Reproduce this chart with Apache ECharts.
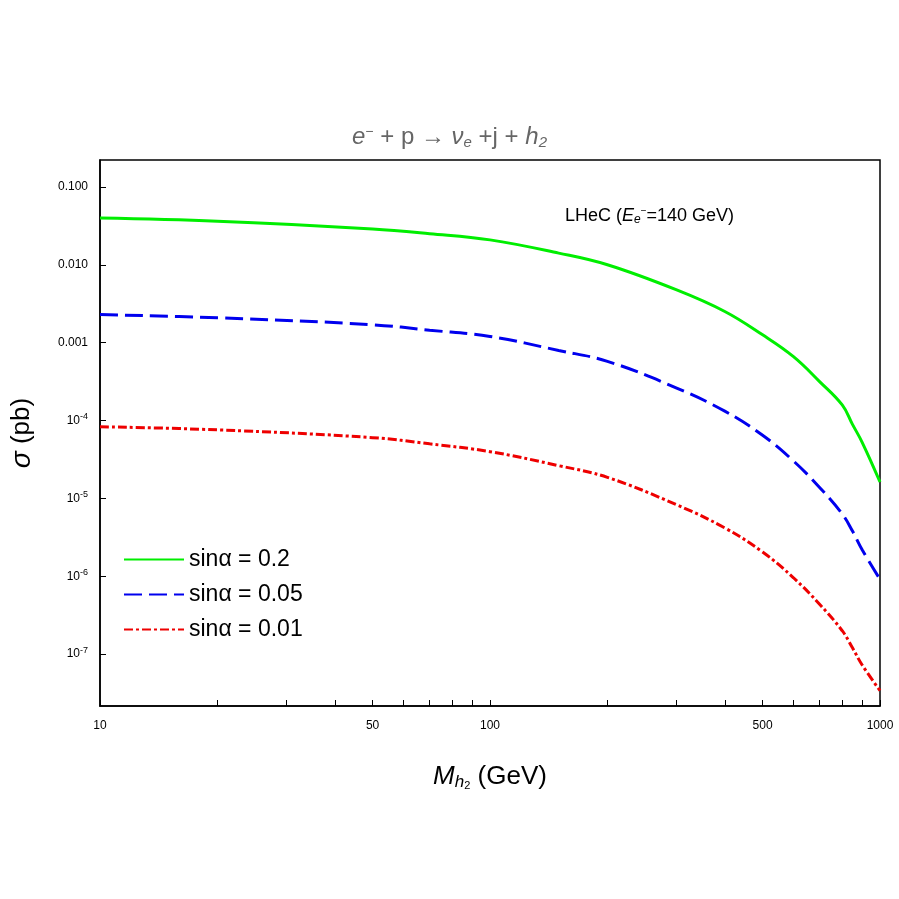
<!DOCTYPE html>
<html><head><meta charset="utf-8">
<script src="https://cdn.jsdelivr.net/npm/echarts@6/dist/echarts.min.js"></script>
<style>html,body{margin:0;background:#fff}#c{width:899px;height:899px}</style>
</head><body><div id="c"></div>
<script>
const massGeV = [10, 20, 50, 70, 100, 150, 200, 300, 400, 500, 600, 700, 800, 850, 900, 1000];
const log10SigmaGreen = [-1.40, -1.44, -1.54, -1.60, -1.68, -1.85, -2.00, -2.32, -2.60, -2.90, -3.18, -3.50, -3.80, -4.05, -4.28, -4.79];
const log10SigmaBlue  = [-2.64, -2.68, -2.77, -2.84, -2.92, -3.10, -3.24, -3.58, -3.88, -4.19, -4.52, -4.86, -5.20, -5.42, -5.66, -6.04];
const log10SigmaRed   = [-4.08, -4.12, -4.22, -4.30, -4.40, -4.58, -4.73, -5.08, -5.38, -5.69, -6.02, -6.36, -6.70, -6.92, -7.14, -7.47];
const xTickLabels = [10, 50, 100, 500, 1000];
const xMinorTicks = [10,20,30,40,50,60,70,80,90,100,200,300,400,500,600,700,800,900,1000];
const yTickExps = [-1, -2, -3, -4, -5, -6, -7];
const seriesNames = ['sinα = 0.2', 'sinα = 0.05', 'sinα = 0.01'];

const L = Math.log10;
const pts = arr => massGeV.map((m, i) => [L(m), arr[i]]);
const chart = echarts.init(document.getElementById('c'));
const font = 'Liberation Sans, Arial, sans-serif';
chart.setOption({
  animation: false,
  grid: {left: 100, right: 19, top: 160, bottom: 193, containLabel: false, outerBoundsMode: 'none', show: true, borderColor: '#000', borderWidth: 1.5, backgroundColor: 'transparent'},
  title: {
    text: '{i|e}{s|−}{n| + p → }{i|ν}{sub|e}{n| +j + }{i|h}{sub|2}',
    left: 'center', top: 120,
    textStyle: {fontWeight: 'normal', rich: {
      i: {fontStyle: 'italic', fontWeight: 'normal', fontSize: 24, color: '#666', fontFamily: font},
      n: {fontSize: 24, fontWeight: 'normal', color: '#666', fontFamily: font},
      s: {fontSize: 14, fontWeight: 'normal', color: '#666', verticalAlign: 'top', fontFamily: font},
      sub: {fontSize: 15, fontWeight: 'normal', color: '#666', fontStyle: 'italic', verticalAlign: 'bottom', padding: [10,0,0,0], fontFamily: font}
    }}
  },
  xAxis: {
    type: 'value', min: L(10), max: L(1000),
    splitLine: {show: false},
    axisLine: {lineStyle: {color: '#000', width: 1.5}},
    axisTick: {inside: true, length: 6, customValues: xMinorTicks.map(L), lineStyle: {color: '#000'}},
    axisLabel: {customValues: xTickLabels.map(L), formatter: v => String(Math.round(Math.pow(10, v))), color: '#000', fontSize: 12, margin: 14, fontFamily: font},
    name: '{i|M}{sub|h}{sub2|2}{n| (GeV)}', nameLocation: 'middle', nameGap: 56,
    nameTextStyle: {rich: {
      i: {fontStyle: 'italic', fontSize: 26, fontFamily: font, color: '#000'},
      sub: {fontStyle: 'italic', fontSize: 17, fontFamily: font, verticalAlign: 'bottom', padding: [12,0,0,0], color: '#000'},
      sub2: {fontSize: 11, fontFamily: font, verticalAlign: 'bottom', padding: [16,0,0,0], color: '#000'},
      n: {fontSize: 26, fontFamily: font, color: '#000'}
    }}
  },
  yAxis: {
    type: 'value', min: -7.667, max: -0.654,
    splitLine: {show: false},
    axisLine: {lineStyle: {color: '#000', width: 1.5}},
    axisTick: {inside: true, length: 6, customValues: yTickExps, lineStyle: {color: '#000'}},
    axisLabel: {customValues: yTickExps, color: '#000', fontSize: 12, margin: 12, fontFamily: font,
      formatter: v => v >= -3 ? Math.pow(10, v).toFixed(3) : '10{sup|' + (v) + '}',
      rich: {sup: {fontSize: 9, verticalAlign: 'top', padding: [0,0,8,0], fontFamily: font}}},
    name: '{i|σ}{n| (pb)}', nameLocation: 'middle', nameGap: 64, nameRotate: 90,
    nameTextStyle: {rich: {i: {fontStyle: 'italic', fontSize: 28, fontFamily: font, color: '#000'}, n: {fontSize: 26, fontFamily: font, color: '#000'}}}
  },
  legend: {
    orient: 'vertical', left: 118, top: 543, itemWidth: 60, itemHeight: 14, itemGap: 12,
    data: seriesNames,
    itemStyle: {opacity: 0, borderWidth: 0},
    lineStyle: {width: 2},
    textStyle: {fontSize: 23, fontFamily: font, color: '#000'}
  },
  graphic: [{
    type: 'text', left: 565, top: 206,
    style: {
      text: '{n|LHeC (}{i|E}{sub|e}{sup|−}{n|=140 GeV)}',
      rich: {
        n: {fontSize: 18, fontFamily: font, fill: '#000'},
        i: {fontSize: 18, fontStyle: 'italic', fontFamily: font, fill: '#000'},
        sub: {fontSize: 12, fontStyle: 'italic', fontFamily: font, verticalAlign: 'bottom', padding: [8,0,0,0], fill: '#000'},
        sup: {fontSize: 10, fontFamily: font, verticalAlign: 'top', padding: [0,0,6,0], fill: '#000'}
      }
    }
  }],
  series: [
    {name: seriesNames[0], type: 'line', smooth: 0.4, symbol: 'none', data: pts(log10SigmaGreen), lineStyle: {color: '#00ee00', width: 3}, itemStyle: {color: '#00ee00'}},
    {name: seriesNames[1], type: 'line', smooth: 0.4, symbol: 'none', data: pts(log10SigmaBlue), lineStyle: {color: '#0000ee', width: 3, type: [18, 7]}, itemStyle: {color: '#0000ee'}},
    {name: seriesNames[2], type: 'line', smooth: 0.4, symbol: 'none', data: pts(log10SigmaRed), lineStyle: {color: '#ee0000', width: 3, type: [9, 3, 3, 3]}, itemStyle: {color: '#ee0000'}}
  ]
});
</script></body></html>
